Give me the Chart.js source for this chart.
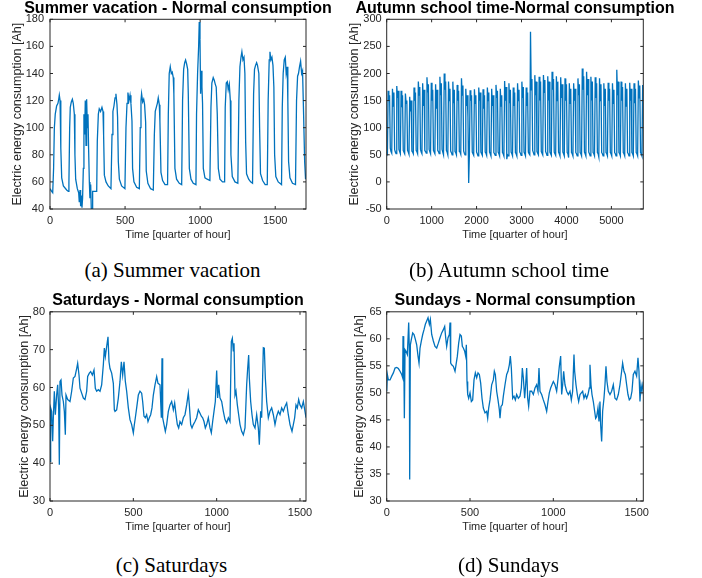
<!DOCTYPE html>
<html>
<head>
<meta charset="utf-8">
<title>Normal consumption</title>
<script src="https://cdn.jsdelivr.net/npm/chart.js@4.4.1/dist/chart.umd.min.js"></script>
<style>
    body { margin: 0; background: #fff; }
    #page { position: relative; width: 702px; height: 578px; overflow: hidden; background: #fff; }
    .panel { position: absolute; }
    .caption {
        position: absolute;
        font-family: "Liberation Serif", "Times New Roman", serif;
        font-size: 21px;
        line-height: normal;
        color: #000;
        text-align: center;
        white-space: nowrap;
    }
</style>
</head>
<body>
<div id="page">
    <div class="panel" style="left:0;top:0"><canvas id="summer" width="356" height="251"></canvas></div>
    <div class="panel" style="left:340px;top:0"><canvas id="autumn" width="350" height="251"></canvas></div>
    <div class="panel" style="left:0;top:290px"><canvas id="saturdays" width="356" height="253"></canvas></div>
    <div class="panel" style="left:340px;top:290px"><canvas id="sundays" width="350" height="253"></canvas></div>

    <div class="caption" style="left:0;top:258px;width:345px">(a) Summer vacation</div>
    <div class="caption" style="left:340px;top:258px;width:338px">(b) Autumn school time</div>
    <div class="caption" style="left:0;top:553px;width:343px">(c) Saturdays</div>
    <div class="caption" style="left:340px;top:553px;width:337px">(d) Sundays</div>
</div>

<script>
// Summer vacation: time in quarters of an hour, load in Ah
var summerTime = [
    0, 11, 18, 24, 29, 35, 44, 53, 58, 62, 67, 71, 73, 78, 89, 111, 122,
    126, 131, 135, 142, 149, 155, 162, 166, 171, 182, 191, 195, 200, 204, 209, 213, 217,
    222, 226, 231, 235, 240, 244, 249, 253, 257, 262, 266, 271, 275, 280, 284, 300, 311,
    315, 322, 328, 337, 346, 353, 357, 362, 373, 388, 406,
    413, 419, 426, 433, 439, 446, 450, 455, 462, 477, 499,
    506, 513, 519, 526, 533, 539, 546, 550, 559, 577, 595,
    601, 606, 610, 617, 624, 630, 637, 641, 652, 670, 688,
    695, 701, 708, 715, 721, 728, 732, 739, 750, 766, 783,
    788, 794, 801, 808, 814, 821, 825, 832, 843, 861, 877,
    883, 890, 897, 903, 910, 917, 921, 928, 939, 954, 972,
    976, 983, 990, 994, 999, 1003, 1007, 1012, 1016, 1021, 1032, 1047, 1065,
    1072, 1078, 1087, 1094, 1101, 1107, 1114, 1121, 1132, 1149, 1163,
    1167, 1174, 1181, 1187, 1194, 1201, 1205, 1214, 1232, 1251,
    1258, 1265, 1272, 1278, 1285, 1292, 1298, 1303, 1309, 1323, 1336, 1349,
    1356, 1362, 1369, 1376, 1382, 1391, 1396, 1402, 1416, 1433, 1447,
    1453, 1460, 1465, 1471, 1478, 1485, 1491, 1496, 1504, 1520, 1542,
    1547, 1553, 1560, 1567, 1573, 1580, 1584, 1589, 1598, 1615, 1635,
    1642, 1649, 1655, 1662, 1669, 1676, 1682, 1689, 1696, 1702
];
var summerLoad = [
    55, 53, 52, 70, 100, 110, 116, 118, 121, 124, 120, 110, 85, 63, 57, 54, 53,
    60, 100, 115, 119, 121, 118, 110, 80, 62, 55, 52, 45, 54, 42, 50, 41, 48,
    70, 110, 95, 120, 87, 121, 100, 110, 85, 60, 48, 58, 40, 40, 53, 53, 53,
    90, 110, 114, 112, 115, 112, 95, 65, 60, 57, 55,
    95, 112, 116, 122, 125, 117, 108, 75, 62, 57, 55,
    100, 118, 126, 120, 124, 118, 105, 70, 60, 56, 55,
    100, 120, 125, 119, 121, 117, 104, 68, 59, 55, 54,
    95, 112, 115, 118, 122, 117, 105, 67, 61, 58, 58,
    110, 140, 145, 140, 141, 137, 125, 70, 62, 59, 58,
    120, 143, 148, 150, 147, 143, 125, 70, 62, 59, 58,
    110, 140, 160, 178, 165, 125, 142, 130, 118, 70, 63, 62, 61,
    115, 133, 137, 135, 132, 130, 110, 70, 62, 60, 60,
    115, 133, 134, 128, 132, 120, 80, 64, 60, 59,
    120, 145, 152, 156, 150, 152, 140, 90, 66, 62, 60, 59,
    125, 143, 146, 148, 146, 140, 100, 66, 61, 58, 58,
    120, 150, 156, 150, 152, 146, 130, 80, 64, 60, 58,
    115, 140, 150, 152, 140, 145, 120, 75, 63, 59, 58,
    120, 138, 140, 145, 149, 140, 142, 110, 75, 62
];

// Autumn school time: one reading every 4 hours (16 quarters), one row per day
var autumnStep = 16;
var autumnLoad = [
    55, 52, 168, 150, 160, 62,
    56, 53, 172, 140, 165, 60,
    55, 52, 177, 155, 168, 60,
    56, 52, 168, 138, 160, 58,
    55, 52, 163, 145, 150, 58,
    55, 51, 157, 130, 150, 57,
    55, 52, 174, 150, 165, 58,
    56, 52, 185, 160, 175, 60,
    55, 52, 182, 140, 170, 58,
    56, 53, 193, 165, 180, 60,
    56, 52, 183, 150, 170, 58,
    55, 52, 180, 135, 170, 58,
    56, 52, 194, 160, 182, 60,
    55, 50, 200, 170, 185, 58,
    55, 50, 185, 150, 172, 57,
    54, 50, 185, 145, 170, 56,
    54, 50, 179, 150, 168, 56,
    55, 51, 191, 160, 178, 57,
    53, 50, 172, 140, 160, 120,
    -2, 50, 169, 150, 160, 55,
    52, 49, 171, 145, 160, 55,
    52, 48, 174, 150, 165, 55,
    52, 49, 171, 135, 160, 55,
    53, 49, 174, 150, 165, 55,
    52, 48, 172, 140, 160, 54,
    52, 49, 179, 155, 168, 55,
    52, 48, 172, 140, 160, 54,
    52, 48, 186, 150, 175, 42,
    50, 48, 182, 145, 170, 55,
    52, 48, 174, 140, 165, 54,
    52, 48, 182, 150, 170, 55,
    53, 49, 185, 155, 175, 55,
    52, 48, 174, 140, 165, 55,
    52, 50, 277, 170, 190, 58,
    54, 50, 197, 160, 185, 56,
    53, 50, 194, 150, 185, 56,
    53, 50, 197, 165, 188, 56,
    53, 49, 195, 150, 185, 55,
    52, 49, 203, 170, 190, 55,
    52, 49, 195, 150, 185, 55,
    52, 48, 193, 155, 180, 55,
    52, 48, 191, 150, 180, 54,
    52, 45, 182, 145, 172, 54,
    52, 48, 182, 150, 172, 54,
    52, 48, 191, 160, 180, 54,
    52, 48, 209, 170, 195, 55,
    52, 48, 203, 160, 190, 55,
    52, 48, 194, 150, 185, 54,
    52, 48, 193, 155, 182, 54,
    52, 46, 191, 150, 180, 54,
    52, 48, 182, 140, 172, 54,
    52, 48, 183, 150, 172, 54,
    52, 48, 182, 145, 170, 54,
    52, 48, 207, 160, 185, 54,
    52, 48, 185, 150, 175, 54,
    52, 48, 182, 140, 172, 54,
    52, 48, 183, 150, 172, 54,
    52, 48, 182, 145, 172, 54,
    52, 48, 187, 155, 178, 54,
    52, 48, 179
];

// Saturdays
var saturdayTime = [
    0, 4, 10, 16, 20, 26, 32, 40, 46, 52, 56, 60, 66, 72, 80, 86, 92, 96, 106, 120,
    130, 140, 150, 160, 166, 174, 180, 190, 200, 210, 220, 226, 236, 244, 254, 264, 272, 280, 290, 300,
    310, 320, 326, 332, 340, 348, 354, 360, 370, 380, 386, 390, 400, 410, 420, 428, 436, 444, 452, 460,
    470, 480, 490, 500, 506, 512, 520, 530, 540, 550, 556, 564, 572, 580, 588, 596, 604, 612, 620, 630,
    640, 648, 660, 668, 672, 676, 684, 692, 700, 710, 720, 730, 740, 748, 756, 764, 772, 780, 790, 800,
    810, 820, 830, 836, 844, 852, 860, 870, 880, 890, 900, 908, 916, 924, 932, 940, 950, 960, 968, 976,
    984, 992, 1000, 1006, 1012, 1020, 1030, 1040, 1050, 1060, 1070, 1080, 1088, 1094, 1100, 1104, 1110, 1116, 1124, 1132,
    1140, 1150, 1160, 1170, 1180, 1186, 1192, 1196, 1204, 1212, 1220, 1230, 1240, 1250, 1256, 1264, 1270, 1280, 1286, 1292,
    1300, 1310, 1320, 1330, 1340, 1350, 1360, 1370, 1380, 1390, 1400, 1410, 1420, 1430, 1440, 1446, 1452, 1460, 1468, 1476,
    1484, 1492, 1500, 1510, 1520, 1530, 1536
];
var saturdayLoad = [
    40.5, 54.6, 53.7, 45.8, 52, 59, 52.8, 58, 60.7, 54.6, 39.6, 61.6, 62, 58, 56.3, 53.7, 47.5, 58, 56.8, 56.3,
    59, 62.5, 62.9, 65, 66.4, 63.3, 59.8, 58.5, 57.2, 56.8, 59, 62.9, 63.8, 64.2, 63.3, 64.6, 59.8, 59, 59.4, 59,
    60.7, 66, 70.4, 68.2, 70.8, 73.4, 66.8, 65, 63.8, 61.1, 54.1, 53.7, 54.1, 57.2, 61.6, 66.8, 63.3, 66.8, 61.6, 59,
    54.6, 51.5, 50.2, 48, 50.2, 52, 54.6, 58, 59, 58.5, 56.3, 52.4, 52, 52.8, 51, 52, 52.8, 54.6, 58, 60.7,
    62.9, 61.1, 60.7, 52, 67.7, 52, 50.2, 48.4, 50.2, 53.7, 55.4, 56.3, 54.1, 55.9, 52.8, 50.2, 49.3, 51, 50.2, 52,
    52.8, 55.4, 58.5, 55.4, 50.2, 49.3, 50.2, 51, 52, 54.1, 53.2, 52.4, 52, 51, 49.3, 50.2, 52, 49.3, 48, 51,
    53.7, 56.3, 64.5, 57.2, 60.7, 57.2, 56.3, 53.7, 51.5, 50.6, 52, 51, 72.1, 73, 69.5, 71.7, 58, 59, 55.4, 52.8,
    50.2, 48.4, 47.5, 49.3, 60.7, 65, 68.6, 62.5, 56.3, 52.8, 50.2, 49.3, 52.8, 49.3, 44.9, 53.7, 52, 70.5, 70.4, 62.5,
    56.3, 52, 53.7, 54.6, 52.8, 50.2, 52.4, 53.7, 52.8, 54.6, 53.7, 55, 55.9, 52.8, 50.2, 49.3, 48.4, 50.2, 52, 55.4,
    54.6, 56.8, 55.4, 54.6, 56.3, 53.7, 52
];

// Sundays
var sundayTime = [
    0, 4, 10, 20, 30, 40, 50, 60, 70, 80, 90, 96, 98, 102, 106, 110, 116, 124, 132, 136,
    138, 142, 148, 156, 164, 172, 180, 188, 194, 200, 208, 216, 224, 232, 240, 248, 256, 262, 270, 280,
    290, 300, 310, 320, 330, 340, 348, 354, 360, 368, 376, 380, 384, 390, 400, 410, 416, 424, 432, 440,
    448, 454, 460, 468, 474, 478, 482, 486, 492, 500, 508, 516, 524, 532, 540, 548, 556, 564, 572, 580,
    590, 600, 606, 612, 620, 630, 640, 646, 652, 660, 668, 676, 680, 686, 694, 700, 710, 720, 728, 736,
    742, 748, 756, 764, 772, 780, 790, 800, 808, 814, 820, 828, 834, 840, 846, 852, 860, 870, 880, 890,
    900, 908, 914, 920, 930, 940, 950, 960, 968, 976, 984, 992, 1000, 1010, 1020, 1030, 1036, 1044, 1050, 1056,
    1062, 1070, 1080, 1090, 1100, 1108, 1116, 1124, 1128, 1136, 1144, 1152, 1160, 1168, 1176, 1184, 1192, 1200, 1208, 1216,
    1220, 1226, 1232, 1240, 1248, 1254, 1260, 1268, 1274, 1280, 1284, 1290, 1296, 1304, 1310, 1316, 1322, 1330, 1340, 1350,
    1360, 1370, 1380, 1390, 1400, 1410, 1416, 1424, 1432, 1440, 1448, 1456, 1464, 1472, 1480, 1490, 1500, 1508, 1514, 1520,
    1526, 1532, 1540
];
var sundayLoad = [
    50.3, 53.4, 52.4, 52.4, 53.1, 53.7, 54.6, 54.7, 54.5, 54, 53.4, 52.8, 60.5, 58.9, 45.3, 58, 57.7, 57.1, 63, 57.7,
    34, 58.9, 59.9, 61.1, 60.8, 59.9, 58.9, 56.8, 55.5, 58.3, 59.6, 60.8, 61.7, 62.7, 63.3, 63.9, 62.7, 63.6, 60.8, 59.6,
    58.6, 58.3, 59.2, 60.2, 61.1, 61.7, 62.3, 60.2, 58.6, 60.2, 60.8, 63, 55.5, 55.2, 54.9, 54, 55.2, 56.8, 59.2, 60.8,
    60.5, 58.6, 58.3, 57.7, 56.8, 58.9, 52.1, 49.7, 49, 50, 48.4, 48.7, 52.4, 53.7, 52.8, 53.7, 53.4, 51.8, 49, 47.2,
    46.3, 46.6, 45.3, 47.2, 48.7, 51.5, 52.4, 54, 53.4, 50.3, 48.7, 46.9, 45.3, 47.5, 47.8, 49.4, 51.5, 53.4, 54, 55.2,
    56.8, 54.6, 49, 49.4, 48.7, 49.7, 49, 49.4, 50.9, 54.6, 52.8, 49, 51.5, 54.6, 49, 47.5, 50.3, 50.3, 49.7, 50.9,
    51.5, 50.3, 54.6, 50.3, 49.7, 48.7, 47.8, 46.6, 48.4, 50, 50.9, 51.5, 52.1, 51.5, 50.3, 53.1, 54.9, 56.8, 49.7, 51.5,
    54, 51.5, 50.3, 49.7, 50.3, 48.7, 50.3, 57.1, 54, 51.5, 49.7, 48.4, 49.7, 50, 50.3, 49, 49.7, 49, 49.7, 50.9,
    55.2, 51.5, 49.7, 48.4, 46.6, 45.3, 45.6, 47.2, 44.7, 48.4, 44.1, 41, 46.6, 49, 51.5, 54.9, 52.1, 50.3, 49.7, 50.3,
    51.5, 49, 48.7, 49.7, 51.5, 54, 55.5, 54, 53.4, 51.5, 49.7, 48.7, 49, 50.3, 53.4, 54, 53.1, 56.5, 54, 48.4,
    51.5, 50.3, 52.1
];

// Axis ticks
var summerXTicks = [0, 500, 1000, 1500];
var summerYTicks = [40, 60, 80, 100, 120, 140, 160, 180];
var autumnXTicks = [0, 1000, 2000, 3000, 4000, 5000];
var autumnYTicks = [-50, 0, 50, 100, 150, 200, 250, 300];
var weekendXTicks = [0, 500, 1000, 1500];
var saturdayYTicks = [30, 40, 50, 60, 70, 80];
var sundayYTicks = [30, 35, 40, 45, 50, 55, 60, 65];

var FONT = "'Liberation Sans', Arial, Helvetica, sans-serif";
var AXIS_COLOR = '#262626';
var LINE_COLOR = '#0072BD';

// box round the plot with short tick marks pointing inwards on all four sides
var boxAxes = {
    id: 'boxAxes',
    afterDatasetsDraw: function (chart) {
        var ctx = chart.ctx;
        var a = chart.chartArea;
        var x = chart.scales.x;
        var y = chart.scales.y;
        var len = 3;
        ctx.save();
        ctx.strokeStyle = AXIS_COLOR;
        ctx.lineWidth = 1;
        ctx.beginPath();
        x.ticks.forEach(function (t) {
            var px = x.getPixelForValue(t.value);
            ctx.moveTo(px, a.bottom);
            ctx.lineTo(px, a.bottom - len);
            ctx.moveTo(px, a.top);
            ctx.lineTo(px, a.top + len);
        });
        y.ticks.forEach(function (t) {
            var py = y.getPixelForValue(t.value);
            ctx.moveTo(a.left, py);
            ctx.lineTo(a.left + len, py);
            ctx.moveTo(a.right, py);
            ctx.lineTo(a.right - len, py);
        });
        ctx.stroke();
        ctx.strokeRect(a.left, a.top, a.right - a.left, a.bottom - a.top);
        ctx.restore();
    }
};

// plain numbers on the axes, no thousands separator
function plainLabel(value) {
    return String(value);
}

function drawPanel(id, p) {
    var points = p.load.map(function (v, i) {
        return { x: p.time[i], y: v };
    });

    return new Chart(document.getElementById(id), {
        type: 'line',

        data: {
            datasets: [{
                data: points,
                borderColor: LINE_COLOR,
                borderWidth: 1.3,
                pointRadius: 0,
                tension: 0,
                fill: false
            }]
        },

        options: {
            responsive: false,
            animation: false,
            events: [],
            layout: { padding: 0 },
            plugins: {
                legend: { display: false },
                tooltip: { enabled: false },
                title: {
                    display: true,
                    text: p.title,
                    color: '#000',
                    font: { family: FONT, size: 16, weight: 'bold', lineHeight: 1.05 },
                    padding: p.titlePad
                }
            },
            scales: {
                x: {
                    type: 'linear',
                    min: 0,
                    max: p.xMax,
                    grid: { display: false, drawTicks: false },
                    border: { display: false },
                    afterBuildTicks: function (s) {
                        s.ticks = p.xTicks.map(function (v) { return { value: v }; });
                    },
                    afterFit: function (s) { s.height = 42; },
                    ticks: {
                        padding: 5,
                        color: AXIS_COLOR,
                        maxRotation: 0,
                        autoSkip: false,
                        callback: plainLabel,
                        font: { family: FONT, size: 11 }
                    },
                    title: {
                        display: true,
                        text: 'Time [quarter of hour]',
                        color: AXIS_COLOR,
                        font: { family: FONT, size: 11 },
                        padding: { top: 0, bottom: 9 }
                    }
                },
                y: {
                    type: 'linear',
                    min: p.yTicks[0],
                    max: p.yTicks[p.yTicks.length - 1],
                    grid: { display: false, drawTicks: false },
                    border: { display: false },
                    afterBuildTicks: function (s) {
                        s.ticks = p.yTicks.map(function (v) { return { value: v }; });
                    },
                    afterFit: function (s) { s.width = p.yWidth; },
                    ticks: {
                        padding: p.yTickPad,
                        color: AXIS_COLOR,
                        autoSkip: false,
                        callback: plainLabel,
                        font: { family: FONT, size: 11 }
                    },
                    title: {
                        display: true,
                        text: 'Electric energy consumption [Ah]',
                        color: AXIS_COLOR,
                        font: { family: FONT, size: 12.5 },
                        padding: { top: p.yTitlePad, bottom: 0 }
                    }
                },
                // empty right-hand margin, keeps the title centred over the plot
                margin: {
                    type: 'linear',
                    position: 'right',
                    grid: { display: false, drawTicks: false },
                    border: { display: false },
                    ticks: { display: false },
                    afterFit: function (s) { s.width = p.yWidth; }
                }
            }
        },
        plugins: [boxAxes]
    });
}

drawPanel('summer', {
    title: 'Summer vacation - Normal consumption',
    time: summerTime, load: summerLoad,
    xMax: 1705, xTicks: summerXTicks, yTicks: summerYTicks,
    yWidth: 50, yTickPad: 6, yTitlePad: 10.2,
    titlePad: { top: 0, bottom: 2.5 }
});

drawPanel('autumn', {
    title: 'Autumn school time-Normal consumption',
    time: autumnLoad.map(function (v, i) { return i * autumnStep; }), load: autumnLoad,
    xMax: 5710, xTicks: autumnXTicks, yTicks: autumnYTicks,
    yWidth: 46.7, yTickPad: 5, yTitlePad: 7,
    titlePad: { top: 0, bottom: 2.5 }
});

drawPanel('saturdays', {
    title: 'Saturdays - Normal consumption',
    time: saturdayTime, load: saturdayLoad,
    xMax: 1536, xTicks: weekendXTicks, yTicks: saturdayYTicks,
    yWidth: 50, yTickPad: 5, yTitlePad: 16.8,
    titlePad: { top: 2, bottom: 3 }
});

drawPanel('sundays', {
    title: 'Sundays - Normal consumption',
    time: sundayTime, load: sundayLoad,
    xMax: 1540, xTicks: weekendXTicks, yTicks: sundayYTicks,
    yWidth: 46.7, yTickPad: 5, yTitlePad: 12.5,
    titlePad: { top: 2, bottom: 3 }
});
</script>
</body>
</html>
